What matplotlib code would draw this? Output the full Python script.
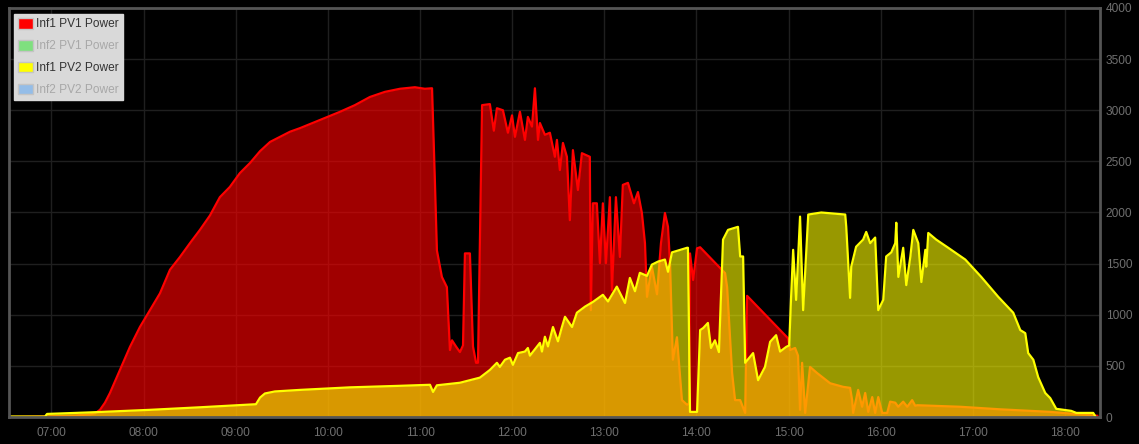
import matplotlib
matplotlib.use("Agg")
import matplotlib.pyplot as plt
import matplotlib.dates as mdates
from matplotlib.patches import Patch
import pandas as pd

DAY = "2024-06-01 "

pv1_times = ["06:32:20", "06:55:50", "07:15:20", "07:25:05", "07:28:20", "07:31:35", "07:34:50", "07:38:05",
             "07:44:35", "07:51:05", "07:57:35", "08:04:05", "08:10:40", "08:17:10", "08:23:40", "08:30:10",
             "08:36:40", "08:43:10", "08:49:40", "08:56:10", "09:02:40", "09:09:20", "09:15:50", "09:22:20",
             "09:28:50", "09:35:20", "09:41:50", "09:54:50", "10:07:55", "10:17:35", "10:27:25", "10:37:10",
             "10:46:55", "10:56:40", "11:03:10", "11:07:50", "11:09:40", "11:11:00", "11:14:15", "11:17:30",
             "11:19:30", "11:20:50", "11:23:25", "11:26:00", "11:28:00", "11:29:15", "11:32:30", "11:34:30",
             "11:36:30", "11:37:45", "11:40:25", "11:45:30", "11:48:05", "11:50:05", "11:54:00", "11:57:15",
             "11:59:55", "12:01:50", "12:05:05", "12:08:20", "12:10:15", "12:12:55", "12:14:50", "12:16:50",
             "12:18:05", "12:21:20", "12:24:35", "12:27:50", "12:29:10", "12:31:05", "12:33:05", "12:35:40",
             "12:37:35", "12:39:35", "12:42:50", "12:45:25", "12:50:35", "12:51:15", "12:52:35", "12:55:10",
             "12:57:10", "12:59:05", "13:01:05", "13:03:40", "13:05:00", "13:07:35", "13:10:10", "13:12:05",
             "13:15:25", "13:19:20", "13:21:55", "13:24:30", "13:26:30", "13:27:50", "13:29:40", "13:31:00",
             "13:34:20", "13:36:55", "13:39:30", "13:41:30", "13:42:50", "13:44:40", "13:47:20", "13:49:20",
             "13:50:35", "13:53:55", "13:55:10", "13:55:50", "13:57:50", "14:00:25", "14:02:25", "14:18:40",
             "14:20:00", "14:23:15", "14:25:10", "14:28:30", "14:31:45", "14:33:00", "14:59:40", "15:01:00",
             "15:04:15", "15:06:10", "15:07:30", "15:08:50", "15:10:50", "15:14:00", "15:18:35", "15:27:05",
             "15:35:30", "15:40:05", "15:41:25", "15:42:05", "15:45:20", "15:47:55", "15:49:55", "15:51:55",
             "15:54:30", "15:56:25", "15:58:25", "16:01:00", "16:04:15", "16:06:10", "16:09:30", "16:11:25",
             "16:14:40", "16:17:20", "16:20:30", "16:22:30", "16:23:50", "16:51:50", "17:17:55", "17:50:30",
             "18:21:05"]
pv1_watts = [0, 5, 15, 25, 35, 70, 140, 235,
             460, 685, 880, 1045, 1210, 1440, 1565, 1700,
             1830, 1970, 2150, 2250, 2385, 2485, 2600, 2690,
             2740, 2790, 2825, 2905, 2985, 3050, 3130, 3180,
             3210, 3225, 3210, 3215, 2320, 1630, 1370, 1270,
             655, 750, 690, 635, 700, 1600, 1600, 690,
             530, 530, 3050, 3060, 2800, 3020, 3000, 2780,
             2950, 2740, 2985, 2710, 2935, 2840, 3215, 2710,
             2875, 2760, 2780, 2545, 2710, 2415, 2680, 2545,
             1925, 2610, 2220, 2580, 2545, 1045, 2090, 2090,
             1505, 2090, 1505, 2150, 1240, 2150, 1565, 2270,
             2290, 2090, 2200, 1995, 1700, 1175, 1350, 1470,
             1200, 1700, 1995, 1860, 1500, 560, 780, 400,
             165, 120, 130, 1600, 1340, 1650, 1660, 1407,
             1270, 430, 165, 165, 40, 1185, 770, 655,
             675, 600, 70, 530, 40, 490, 430, 330,
             295, 285, 165, 40, 265, 100, 235, 50,
             195, 40, 195, 40, 40, 150, 140, 100,
             150, 100, 165, 110, 115, 100, 75, 50,
             12]

pv2_times = ["06:32:20", "06:55:50", "06:57:05", "07:25:05", "08:04:05", "08:36:40", "09:13:10", "09:15:50",
             "09:19:00", "09:25:30", "09:41:50", "10:14:25", "10:46:55", "11:06:30", "11:08:30", "11:11:00",
             "11:26:00", "11:39:00", "11:45:30", "11:50:05", "11:52:00", "11:55:20", "11:58:35", "12:00:30",
             "12:03:50", "12:08:20", "12:10:15", "12:11:35", "12:18:05", "12:19:25", "12:21:20", "12:23:20",
             "12:26:35", "12:29:50", "12:32:25", "12:34:25", "12:39:00", "12:42:10", "12:47:30", "12:52:35",
             "12:59:05", "13:02:25", "13:08:10", "13:13:30", "13:16:40", "13:20:00", "13:23:10", "13:27:50",
             "13:31:00", "13:35:00", "13:39:30", "13:41:30", "13:44:05", "13:53:55", "13:54:30", "13:55:50",
             "14:00:25", "14:02:25", "14:04:25", "14:07:30", "14:09:30", "14:12:05", "14:14:40", "14:17:20",
             "14:20:35", "14:27:05", "14:28:30", "14:30:25", "14:31:45", "14:36:55", "14:40:10", "14:44:40",
             "14:48:00", "14:51:55", "14:54:30", "14:58:25", "15:00:25", "15:01:35", "15:03:00", "15:04:55",
             "15:07:30", "15:09:30", "15:12:50", "15:21:20", "15:36:55", "15:37:35", "15:40:05", "15:40:50",
             "15:44:00", "15:48:35", "15:50:35", "15:53:10", "15:56:25", "15:58:25", "16:01:40", "16:03:35",
             "16:06:55", "16:09:30", "16:10:10", "16:11:30", "16:14:40", "16:16:40", "16:19:20", "16:21:15",
             "16:24:30", "16:26:30", "16:29:05", "16:29:40", "16:31:00", "16:36:10", "16:44:00", "16:55:05",
             "17:05:30", "17:16:35", "17:26:20", "17:30:55", "17:34:10", "17:36:05", "17:39:25", "17:42:35",
             "17:47:10", "17:50:25", "17:54:20", "18:04:05", "18:07:25", "18:18:25", "18:19:40"]
pv2_watts = [5, 5, 30, 45, 70, 95, 125, 190,
             230, 250, 265, 290, 305, 315, 245, 310,
             335, 385, 460, 530, 490, 560, 580, 510,
             625, 640, 675, 600, 725, 640, 785, 690,
             880, 740, 880, 980, 880, 1020, 1080, 1125,
             1195, 1130, 1275, 1115, 1360, 1230, 1410, 1380,
             1490, 1520, 1540, 1420, 1610, 1655, 1655, 50,
             50, 850, 870, 920, 675, 750, 635, 1735,
             1830, 1860, 1570, 1570, 530, 625, 360, 490,
             735, 800, 640, 685, 700, 1145, 1635, 1145,
             1960, 1045, 1980, 2000, 1980, 1860, 1165, 1470,
             1665, 1735, 1810, 1700, 1755, 1045, 1145, 1570,
             1610, 1700, 1900, 1370, 1655, 1290, 1570, 1830,
             1700, 1320, 1635, 1470, 1800, 1735, 1655, 1540,
             1370, 1175, 1020, 850, 820, 625, 560, 390,
             235, 185, 80, 60, 40, 40, 10]

legend_labels = ["Inf1 PV1 Power", "Inf2 PV1 Power", "Inf1 PV2 Power", "Inf2 PV2 Power"]
legend_colors = ["#ff0000", "#7fe07f", "#ffff00", "#94bde8"]
legend_visible = [True, False, True, False]

y_ticks = [0, 500, 1000, 1500, 2000, 2500, 3000, 3500, 4000]
x_start, x_end = "06:32:20", "18:22:50"


def to_dt(ts):
    return pd.to_datetime([DAY + t for t in ts])


t1, t2 = to_dt(pv1_times), to_dt(pv2_times)

W, H = 1139, 444
fig = plt.figure(figsize=(W / 100, H / 100), dpi=100, facecolor="black")
ax = fig.add_axes([9 / W, 27 / H, (1100 - 9) / W, (417 - 8) / H])
ax.set_facecolor("black")

ax.fill_between(t1, pv1_watts, 0, color="#ff0000", alpha=0.63, linewidth=0, zorder=2)
ax.plot(t1, pv1_watts, color="#ff0000", lw=1.6, zorder=3, solid_joinstyle="round")
ax.fill_between(t2, pv2_watts, 0, color="#ffff00", alpha=0.6, linewidth=0, zorder=4)
ax.plot(t2, pv2_watts, color="#ffff00", lw=1.6, zorder=5, solid_joinstyle="round")

ax.set_xlim(pd.Timestamp(DAY + x_start), pd.Timestamp(DAY + x_end))
ax.set_ylim(0, 4000)
ax.set_yticks(y_ticks)
ax.yaxis.tick_right()
ax.xaxis.set_major_locator(mdates.HourLocator())
ax.xaxis.set_major_formatter(mdates.DateFormatter("%H:%M"))
ax.tick_params(axis="both", length=0, colors="#6f6f6f", labelsize=8.6)
ax.tick_params(axis="y", pad=4)
ax.tick_params(axis="x", pad=7)
for lab in ax.get_xticklabels() + ax.get_yticklabels():
    lab.set_family("Liberation Sans")
    lab.set_color("#6f6f6f")
ax.grid(True, color="#1f1f1f", linewidth=1, zorder=0)
ax.set_axisbelow(True)
for sp in ax.spines.values():
    sp.set_color("#555555")
    sp.set_linewidth(2)
    sp.set_zorder(10)

handles = [Patch(facecolor=c, edgecolor="#c4c4c4", linewidth=1) for c in legend_colors]
leg = ax.legend(handles, legend_labels, loc="upper left",
                bbox_to_anchor=((14 - 9) / 1091, 1 - (14 - 8) / 409),
                frameon=True, fancybox=False, facecolor="#d9d9d9", edgecolor="#d9d9d9",
                framealpha=1, borderpad=0.32, labelspacing=0.8, handlelength=1.25, handleheight=1.0,
                handletextpad=0.3, borderaxespad=0,
                prop={"family": "Liberation Sans", "size": 8.6})
leg.set_zorder(20)
for txt, vis in zip(leg.get_texts(), legend_visible):
    txt.set_color("#333333" if vis else "#a8a8a8")

fig.savefig("out.png", dpi=100, facecolor="black")
